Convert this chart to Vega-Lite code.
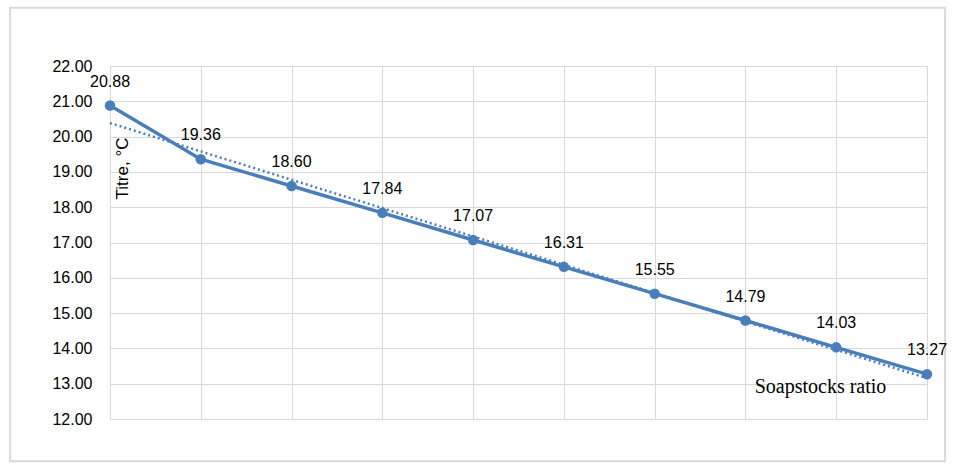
{
  "$schema": "https://vega.github.io/schema/vega-lite/v6.json",
  "width": 817,
  "height": 353,
  "autosize": {"type": "none"},
  "padding": {"left": 110, "top": 66, "right": 26, "bottom": 53},
  "background": "white",
  "config": {
    "view": {"stroke": null},
    "axis": {"gridColor": "#d9d9d9", "gridWidth": 1, "domain": false, "ticks": false}
  },
  "data": {
    "values": [
      {"n": 1, "titre": 20.88},
      {"n": 2, "titre": 19.36},
      {"n": 3, "titre": 18.60},
      {"n": 4, "titre": 17.84},
      {"n": 5, "titre": 17.07},
      {"n": 6, "titre": 16.31},
      {"n": 7, "titre": 15.55},
      {"n": 8, "titre": 14.79},
      {"n": 9, "titre": 14.03},
      {"n": 10, "titre": 13.27}
    ]
  },
  "encoding": {
    "x": {
      "field": "n", "type": "quantitative",
      "scale": {"domain": [1, 10], "nice": false, "zero": false},
      "axis": {
        "values": [1, 2, 3, 4, 5, 6, 7, 8, 9, 10],
        "labels": false,
        "title": "Soapstocks ratio",
        "titleFont": "Liberation Serif",
        "titleFontSize": 20,
        "titleFontWeight": "normal",
        "titleColor": "#000000",
        "titleX": 710,
        "titleY": -27,
        "titleAnchor": null,
        "titleAlign": "center",
        "titleBaseline": "alphabetic"
      }
    },
    "y": {
      "field": "titre", "type": "quantitative",
      "scale": {"domain": [12, 22], "nice": false, "zero": false},
      "axis": {
        "values": [12, 13, 14, 15, 16, 17, 18, 19, 20, 21, 22],
        "format": ".2f",
        "labelFont": "Liberation Sans",
        "labelFontSize": 16,
        "labelColor": "#000000",
        "labelPadding": 18,
        "title": "Titre, °C",
        "titleFont": "Liberation Sans",
        "titleFontSize": 17,
        "titleFontWeight": "normal",
        "titleColor": "#000000",
        "titleAngle": -90,
        "titleX": 17,
        "titleY": 102,
        "titleAlign": "center",
        "titleBaseline": "alphabetic"
      }
    }
  },
  "layer": [
    {
      "mark": {"type": "rect", "fill": null, "stroke": "#d9d9d9", "strokeWidth": 2, "clip": false},
      "data": {"values": [{"x0": -0.1, "x1": 10.2, "y0": 10.8, "y1": 23.65}]},
      "encoding": {
        "x": {"field": "x0", "type": "quantitative"},
        "x2": {"field": "x1"},
        "y": {"field": "y0", "type": "quantitative"},
        "y2": {"field": "y1"}
      }
    },
    {
      "transform": [{"regression": "titre", "on": "n"}],
      "mark": {"type": "line", "color": "#4a7ebb", "strokeWidth": 2.5, "strokeDash": [2, 3]}
    },
    {
      "mark": {"type": "line", "color": "#4a7ebb", "strokeWidth": 3.5}
    },
    {
      "mark": {"type": "point", "filled": true, "color": "#4a7ebb", "opacity": 1, "size": 110}
    },
    {
      "mark": {"type": "text", "font": "Liberation Sans", "fontSize": 16, "color": "#000000", "dy": -19, "baseline": "alphabetic"},
      "encoding": {"text": {"field": "titre", "type": "quantitative", "format": ".2f"}}
    }
  ]
}
